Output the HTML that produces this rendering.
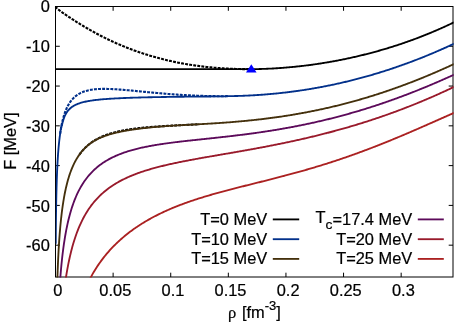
<!DOCTYPE html>
<html><head><meta charset="utf-8"><title>F vs rho</title>
<style>
html,body{margin:0;padding:0;background:#fff;}
body{width:454px;height:322px;overflow:hidden;}
svg{display:block;font-family:"Liberation Sans",sans-serif;font-size:16.1px;fill:#000;}
</style></head><body>
<svg width="454" height="322" viewBox="0 0 454 322">
<rect width="454" height="322" fill="#fff"/>
<defs><clipPath id="c"><rect x="54.9" y="5.9" width="398.7" height="271.5"/></clipPath></defs>
<g stroke="#000" stroke-width="1" fill="none">
<line x1="113.11" y1="277.0" x2="113.11" y2="272.7"/><line x1="113.11" y1="6.5" x2="113.11" y2="10.8"/><line x1="170.72" y1="277.0" x2="170.72" y2="272.7"/><line x1="170.72" y1="6.5" x2="170.72" y2="10.8"/><line x1="228.33" y1="277.0" x2="228.33" y2="272.7"/><line x1="228.33" y1="6.5" x2="228.33" y2="10.8"/><line x1="285.94" y1="277.0" x2="285.94" y2="272.7"/><line x1="285.94" y1="6.5" x2="285.94" y2="10.8"/><line x1="343.55" y1="277.0" x2="343.55" y2="272.7"/><line x1="343.55" y1="6.5" x2="343.55" y2="10.8"/><line x1="401.16" y1="277.0" x2="401.16" y2="272.7"/><line x1="401.16" y1="6.5" x2="401.16" y2="10.8"/><line x1="55.5" y1="46.28" x2="59.8" y2="46.28"/><line x1="453.0" y1="46.28" x2="448.7" y2="46.28"/><line x1="55.5" y1="86.06" x2="59.8" y2="86.06"/><line x1="453.0" y1="86.06" x2="448.7" y2="86.06"/><line x1="55.5" y1="125.84" x2="59.8" y2="125.84"/><line x1="453.0" y1="125.84" x2="448.7" y2="125.84"/><line x1="55.5" y1="165.62" x2="59.8" y2="165.62"/><line x1="453.0" y1="165.62" x2="448.7" y2="165.62"/><line x1="55.5" y1="205.40" x2="59.8" y2="205.40"/><line x1="453.0" y1="205.40" x2="448.7" y2="205.40"/><line x1="55.5" y1="245.18" x2="59.8" y2="245.18"/><line x1="453.0" y1="245.18" x2="448.7" y2="245.18"/>
</g>
<rect x="55.5" y="6.5" width="397.5" height="270.5" fill="none" stroke="#000" stroke-width="1"/>
<g clip-path="url(#c)" stroke-linecap="butt" stroke-linejoin="round">
<path d="M55.50,6.50 L55.51,6.55 L55.51,6.55 L55.51,6.55 L55.51,6.55 L55.51,6.56 L55.51,6.56 L55.51,6.56 L55.52,6.56 L55.52,6.56 L55.52,6.56 L55.52,6.57 L55.52,6.57 L55.52,6.57 L55.52,6.57 L55.52,6.57 L55.52,6.58 L55.52,6.58 L55.52,6.58 L55.52,6.58 L55.52,6.58 L55.52,6.59 L55.53,6.59 L55.53,6.59 L55.53,6.59 L55.53,6.60 L55.53,6.60 L55.53,6.60 L55.53,6.61 L55.53,6.61 L55.53,6.61 L55.54,6.62 L55.54,6.62 L55.54,6.62 L55.54,6.63 L55.54,6.63 L55.54,6.63 L55.55,6.64 L55.55,6.64 L55.55,6.64 L55.55,6.65 L55.55,6.65 L55.56,6.66 L55.56,6.66 L55.56,6.67 L55.56,6.67 L55.56,6.68 L55.57,6.68 L55.57,6.69 L55.57,6.69 L55.57,6.70 L55.58,6.70 L55.58,6.71 L55.58,6.72 L55.59,6.72 L55.59,6.73 L55.59,6.73 L55.60,6.74 L55.60,6.75 L55.61,6.75 L55.61,6.76 L55.61,6.77 L55.62,6.78 L55.62,6.79 L55.63,6.79 L55.63,6.80 L55.64,6.81 L55.64,6.82 L55.65,6.83 L55.65,6.84 L55.66,6.85 L55.67,6.86 L55.67,6.87 L55.68,6.88 L55.69,6.89 L55.69,6.90 L55.70,6.91 L55.71,6.93 L55.72,6.94 L55.73,6.95 L55.74,6.96 L55.74,6.98 L55.75,6.99 L55.76,7.00 L55.77,7.02 L55.79,7.03 L55.80,7.05 L55.81,7.07 L55.82,7.08 L55.83,7.10 L55.85,7.12 L55.86,7.13 L55.87,7.15 L55.89,7.17 L55.90,7.19 L55.92,7.21 L55.93,7.23 L55.95,7.25 L55.97,7.27 L55.99,7.29 L56.01,7.32 L56.03,7.34 L56.05,7.37 L56.07,7.39 L56.09,7.42 L56.11,7.44 L56.14,7.47 L56.16,7.50 L56.19,7.53 L56.21,7.56 L56.24,7.59 L56.27,7.62 L56.30,7.65 L56.33,7.68 L56.36,7.72 L56.40,7.75 L56.43,7.79 L56.47,7.83 L56.51,7.87 L56.54,7.90 L56.59,7.95 L56.63,7.99 L56.67,8.03 L56.72,8.08 L56.76,8.12 L56.81,8.17 L56.86,8.22 L56.92,8.27 L56.97,8.32 L57.03,8.37 L57.09,8.43 L57.15,8.48 L57.22,8.54 L57.28,8.60 L57.35,8.66 L57.42,8.72 L57.50,8.79 L57.58,8.86 L57.66,8.93 L57.74,9.00 L57.83,9.07 L57.92,9.15 L58.01,9.23 L58.11,9.31 L58.21,9.39 L58.32,9.48 L58.43,9.57 L58.54,9.66 L58.66,9.75 L58.79,9.85 L58.91,9.95 L59.05,10.05 L59.18,10.16 L59.33,10.27 L59.48,10.39 L59.63,10.51 L59.79,10.63 L59.96,10.75 L60.13,10.88 L60.31,11.02 L60.50,11.16 L60.70,11.30 L60.90,11.45 L61.11,11.60 L61.33,11.76 L61.55,11.93 L61.79,12.09 L62.03,12.27 L62.29,12.45 L62.55,12.64 L62.83,12.83 L63.11,13.03 L63.41,13.24 L63.72,13.46 L64.04,13.68 L64.37,13.91 L64.71,14.15 L65.07,14.39 L65.45,14.65 L65.83,14.91 L66.23,15.18 L66.65,15.47 L67.09,15.76 L67.54,16.06 L68.01,16.38 L68.49,16.70 L69.00,17.04 L69.53,17.38 L70.07,17.74 L70.64,18.11 L71.23,18.50 L71.84,18.90 L72.48,19.31 L73.14,19.73 L73.82,20.17 L74.54,20.63 L75.28,21.10 L76.05,21.59 L76.85,22.09 L77.68,22.61 L78.54,23.14 L79.49,23.72 L80.43,24.30 L81.37,24.87 L82.31,25.44 L83.25,26.00 L84.19,26.56 L85.13,27.12 L86.08,27.67 L87.02,28.22 L87.96,28.77 L88.90,29.31 L89.84,29.84 L90.78,30.38 L91.72,30.90 L92.66,31.43 L93.61,31.95 L94.55,32.46 L95.49,32.97 L96.43,33.48 L97.37,33.98 L98.31,34.48 L99.25,34.98 L100.20,35.47 L101.14,35.96 L102.08,36.44 L103.02,36.92 L103.96,37.39 L104.90,37.86 L105.84,38.32 L106.79,38.79 L107.73,39.24 L108.67,39.70 L109.61,40.15 L110.55,40.59 L111.49,41.03 L112.43,41.47 L113.38,41.90 L114.32,42.33 L115.26,42.75 L116.20,43.17 L117.14,43.59 L118.08,44.00 L119.02,44.41 L119.97,44.81 L120.91,45.21 L121.85,45.61 L122.79,46.00 L123.73,46.39 L124.67,46.77 L125.61,47.15 L126.56,47.53 L127.50,47.90 L128.44,48.27 L129.38,48.64 L130.32,49.00 L131.26,49.35 L132.20,49.71 L133.14,50.06 L134.09,50.40 L135.03,50.74 L135.97,51.08 L136.91,51.42 L137.85,51.75 L138.79,52.07 L139.73,52.39 L140.68,52.71 L141.62,53.03 L142.56,53.34 L143.50,53.65 L144.44,53.95 L145.38,54.26 L146.32,54.55 L147.27,54.85 L148.21,55.14 L149.15,55.42 L150.09,55.71 L151.03,55.99 L151.97,56.26 L152.91,56.54 L153.86,56.81 L154.80,57.07 L155.74,57.33 L156.68,57.59 L157.62,57.85 L158.56,58.10 L159.50,58.35 L160.45,58.60 L161.39,58.84 L162.33,59.08 L163.27,59.32 L164.21,59.55 L165.15,59.78 L166.09,60.00 L167.04,60.23 L167.98,60.45 L168.92,60.66 L169.86,60.88 L170.80,61.09 L171.74,61.30 L172.68,61.50 L173.63,61.70 L174.57,61.90 L175.51,62.10 L176.45,62.29 L177.39,62.48 L178.33,62.66 L179.27,62.85 L180.21,63.03 L181.16,63.20 L182.10,63.38 L183.04,63.55 L183.98,63.72 L184.92,63.89 L185.86,64.05 L186.80,64.21 L187.75,64.37 L188.69,64.52 L189.63,64.67 L190.57,64.82 L191.51,64.97 L192.45,65.11 L193.39,65.25 L194.34,65.39 L195.28,65.52 L196.22,65.66 L197.16,65.79 L198.10,65.91 L199.04,66.04 L199.98,66.16 L200.93,66.28 L201.87,66.40 L202.81,66.51 L203.75,66.62 L204.69,66.73 L205.63,66.84 L206.57,66.94 L207.52,67.04 L208.46,67.14 L209.40,67.24 L210.34,67.33 L211.28,67.42 L212.22,67.51 L213.16,67.59 L214.11,67.68 L215.05,67.76 L215.99,67.84 L216.93,67.92 L217.87,67.99 L218.81,68.06 L219.75,68.13 L220.69,68.20 L221.64,68.26 L222.58,68.32 L223.52,68.38 L224.46,68.44 L225.40,68.50 L226.34,68.55 L227.28,68.60 L228.23,68.65 L229.17,68.70 L230.11,68.74 L231.05,68.78 L231.99,68.82 L232.93,68.86 L233.87,68.89 L234.82,68.92 L235.76,68.96 L236.70,68.98 L237.64,69.01 L238.58,69.03 L239.52,69.06 L240.46,69.07 L241.41,69.09 L242.35,69.11 L243.29,69.12 L244.23,69.13 L245.17,69.14 L246.11,69.15 L247.05,69.15 L248.00,69.15 L248.94,69.16" fill="none" stroke="#000" stroke-width="2.1" stroke-dasharray="2.9 1.2"/>
<path d="M60.13,133.83 L60.31,132.59 L60.50,131.36 L60.70,130.14 L60.90,128.93 L61.11,127.73 L61.33,126.54 L61.55,125.36 L61.79,124.19 L62.03,123.04 L62.29,121.90 L62.55,120.77 L62.83,119.65 L63.11,118.55 L63.41,117.46 L63.72,116.38 L64.04,115.32 L64.37,114.27 L64.71,113.24 L65.07,112.22 L65.45,111.22 L65.83,110.24 L66.23,109.27 L66.65,108.32 L67.09,107.39 L67.54,106.48 L68.01,105.58 L68.49,104.71 L69.00,103.85 L69.53,103.01 L70.07,102.20 L70.64,101.40 L71.23,100.62 L71.84,99.87 L72.48,99.14 L73.14,98.43 L73.82,97.74 L74.54,97.08 L75.28,96.44 L76.05,95.82 L76.85,95.23 L77.68,94.66 L78.54,94.12 L79.49,93.57 L80.43,93.08 L81.37,92.63 L82.31,92.22 L83.25,91.84 L84.19,91.50 L85.13,91.19 L86.08,90.90 L87.02,90.65 L87.96,90.41 L88.90,90.20 L89.84,90.01 L90.78,89.84 L91.72,89.69 L92.66,89.55 L93.61,89.43 L94.55,89.33 L95.49,89.23 L96.43,89.15 L97.37,89.09 L98.31,89.03 L99.25,88.98 L100.20,88.94 L101.14,88.92 L102.08,88.90 L103.02,88.88 L103.96,88.88 L104.90,88.88 L105.84,88.89 L106.79,88.91 L107.73,88.93 L108.67,88.95 L109.61,88.99 L110.55,89.02 L111.49,89.06 L112.43,89.11 L113.38,89.16 L114.32,89.21 L115.26,89.26 L116.20,89.32 L117.14,89.39 L118.08,89.45 L119.02,89.52 L119.97,89.59 L120.91,89.66 L121.85,89.73 L122.79,89.81 L123.73,89.89 L124.67,89.97 L125.61,90.05 L126.56,90.13 L127.50,90.21 L128.44,90.30 L129.38,90.38 L130.32,90.47 L131.26,90.56 L132.20,90.65 L133.14,90.74 L134.09,90.82 L135.03,90.91 L135.97,91.01 L136.91,91.10 L137.85,91.19 L138.79,91.28 L139.73,91.37 L140.68,91.46 L141.62,91.55 L142.56,91.64 L143.50,91.74 L144.44,91.83 L145.38,91.92 L146.32,92.01 L147.27,92.10 L148.21,92.19 L149.15,92.28 L150.09,92.37 L151.03,92.46 L151.97,92.55 L152.91,92.63 L153.86,92.72 L154.80,92.81 L155.74,92.89 L156.68,92.98 L157.62,93.06 L158.56,93.15 L159.50,93.23 L160.45,93.31 L161.39,93.39 L162.33,93.48 L163.27,93.56 L164.21,93.63 L165.15,93.71 L166.09,93.79 L167.04,93.87 L167.98,93.94 L168.92,94.02 L169.86,94.09 L170.80,94.16 L171.74,94.23 L172.68,94.30 L173.63,94.37 L174.57,94.44 L175.51,94.51 L176.45,94.57 L177.39,94.64 L178.33,94.70 L179.27,94.76 L180.21,94.82 L181.16,94.88 L182.10,94.94 L183.04,95.00 L183.98,95.06 L184.92,95.11 L185.86,95.16 L186.80,95.22 L187.75,95.27 L188.69,95.32 L189.63,95.37 L190.57,95.41 L191.51,95.46 L192.45,95.51 L193.39,95.55 L194.34,95.59 L195.28,95.63 L196.22,95.67 L197.16,95.71 L198.10,95.75 L199.04,95.78 L199.98,95.81 L200.93,95.85 L201.87,95.88 L202.81,95.91 L203.75,95.94 L204.69,95.96 L205.63,95.99 L206.57,96.01 L207.52,96.03 L208.46,96.05 L209.40,96.07 L210.34,96.09 L211.28,96.11 L212.22,96.12 L213.16,96.14 L214.11,96.15 L215.05,96.16 L215.99,96.17 L216.93,96.18 L217.87,96.18 L218.81,96.19 L219.75,96.19 L220.69,96.19 L221.64,96.19 L222.58,96.19 L223.52,96.19 L224.46,96.19 L225.40,96.18 L226.34,96.17 L227.28,96.16 L228.23,96.15" fill="none" stroke="#02308a" stroke-width="2.1" stroke-dasharray="2.9 1.2"/>
<path d="M79.49,154.51 L80.43,153.23 L81.37,152.03 L82.31,150.90 L83.25,149.82 L84.19,148.81 L85.13,147.85 L86.08,146.94 L87.02,146.07 L87.96,145.25 L88.90,144.46 L89.84,143.72 L90.78,143.01 L91.72,142.33 L92.66,141.69 L93.61,141.07 L94.55,140.48 L95.49,139.92 L96.43,139.38 L97.37,138.86 L98.31,138.37 L99.25,137.89 L100.20,137.44 L101.14,137.00 L102.08,136.58 L103.02,136.18 L103.96,135.80 L104.90,135.43 L105.84,135.07 L106.79,134.73 L107.73,134.40 L108.67,134.08 L109.61,133.78 L110.55,133.48 L111.49,133.20 L112.43,132.93 L113.38,132.67 L114.32,132.41 L115.26,132.17 L116.20,131.93 L117.14,131.71 L118.08,131.49 L119.02,131.28 L119.97,131.07 L120.91,130.87 L121.85,130.68 L122.79,130.50 L123.73,130.32 L124.67,130.15 L125.61,129.98 L126.56,129.82 L127.50,129.67 L128.44,129.52 L129.38,129.37 L130.32,129.23 L131.26,129.09 L132.20,128.96 L133.14,128.83 L134.09,128.71 L135.03,128.59 L135.97,128.47 L136.91,128.35 L137.85,128.24 L138.79,128.14 L139.73,128.03 L140.68,127.93 L141.62,127.83 L142.56,127.74 L143.50,127.64 L144.44,127.55 L145.38,127.47 L146.32,127.38 L147.27,127.30 L148.21,127.22 L149.15,127.14 L150.09,127.06 L151.03,126.98 L151.97,126.91 L152.91,126.84 L153.86,126.77 L154.80,126.70 L155.74,126.63 L156.68,126.57 L157.62,126.50 L158.56,126.44 L159.50,126.38 L160.45,126.31 L161.39,126.25 L162.33,126.20 L163.27,126.14 L164.21,126.08 L165.15,126.02 L166.09,125.97 L167.04,125.91 L167.98,125.86 L168.92,125.81 L169.86,125.76 L170.80,125.70 L171.74,125.65 L172.68,125.60 L173.63,125.55 L174.57,125.50 L175.51,125.45 L176.45,125.40 L177.39,125.35 L178.33,125.30 L179.27,125.26 L180.21,125.21 L181.16,125.16 L182.10,125.11 L183.04,125.06 L183.98,125.02 L184.92,124.97 L185.86,124.92 L186.80,124.87 L187.75,124.82 L188.69,124.78 L189.63,124.73 L190.57,124.68 L191.51,124.63 L192.45,124.58 L193.39,124.53 L194.34,124.48 L195.28,124.43 L196.22,124.38 L197.16,124.33 L198.10,124.28 L199.04,124.23" fill="none" stroke="#000" stroke-width="2.1" stroke-dasharray="2.9 1.2"/>
<path d="M55.50,69.16 L55.51,69.16 L55.51,69.16 L55.51,69.16 L55.51,69.16 L55.51,69.16 L55.51,69.16 L55.51,69.16 L55.52,69.16 L55.52,69.16 L55.52,69.16 L55.52,69.16 L55.52,69.16 L55.52,69.16 L55.52,69.16 L55.52,69.16 L55.52,69.16 L55.52,69.16 L55.52,69.16 L55.52,69.16 L55.52,69.16 L55.52,69.16 L55.53,69.16 L55.53,69.16 L55.53,69.16 L55.53,69.16 L55.53,69.16 L55.53,69.16 L55.53,69.16 L55.53,69.16 L55.53,69.16 L55.54,69.16 L55.54,69.16 L55.54,69.16 L55.54,69.16 L55.54,69.16 L55.54,69.16 L55.55,69.16 L55.55,69.16 L55.55,69.16 L55.55,69.16 L55.55,69.16 L55.56,69.16 L55.56,69.16 L55.56,69.16 L55.56,69.16 L55.56,69.16 L55.57,69.16 L55.57,69.16 L55.57,69.16 L55.57,69.16 L55.58,69.16 L55.58,69.16 L55.58,69.16 L55.59,69.16 L55.59,69.16 L55.59,69.16 L55.60,69.16 L55.60,69.16 L55.61,69.16 L55.61,69.16 L55.61,69.16 L55.62,69.16 L55.62,69.16 L55.63,69.16 L55.63,69.16 L55.64,69.16 L55.64,69.16 L55.65,69.16 L55.65,69.16 L55.66,69.16 L55.67,69.16 L55.67,69.16 L55.68,69.16 L55.69,69.16 L55.69,69.16 L55.70,69.16 L55.71,69.16 L55.72,69.16 L55.73,69.16 L55.74,69.16 L55.74,69.16 L55.75,69.16 L55.76,69.16 L55.77,69.16 L55.79,69.16 L55.80,69.16 L55.81,69.16 L55.82,69.16 L55.83,69.16 L55.85,69.16 L55.86,69.16 L55.87,69.16 L55.89,69.16 L55.90,69.16 L55.92,69.16 L55.93,69.16 L55.95,69.16 L55.97,69.16 L55.99,69.16 L56.01,69.16 L56.03,69.16 L56.05,69.16 L56.07,69.16 L56.09,69.16 L56.11,69.16 L56.14,69.16 L56.16,69.16 L56.19,69.16 L56.21,69.16 L56.24,69.16 L56.27,69.16 L56.30,69.16 L56.33,69.16 L56.36,69.16 L56.40,69.16 L56.43,69.16 L56.47,69.16 L56.51,69.16 L56.54,69.16 L56.59,69.16 L56.63,69.16 L56.67,69.16 L56.72,69.16 L56.76,69.16 L56.81,69.16 L56.86,69.16 L56.92,69.16 L56.97,69.16 L57.03,69.16 L57.09,69.16 L57.15,69.16 L57.22,69.16 L57.28,69.16 L57.35,69.16 L57.42,69.16 L57.50,69.16 L57.58,69.16 L57.66,69.16 L57.74,69.16 L57.83,69.16 L57.92,69.16 L58.01,69.16 L58.11,69.16 L58.21,69.16 L58.32,69.16 L58.43,69.16 L58.54,69.16 L58.66,69.16 L58.79,69.16 L58.91,69.16 L59.05,69.16 L59.18,69.16 L59.33,69.16 L59.48,69.16 L59.63,69.16 L59.79,69.16 L59.96,69.16 L60.13,69.16 L60.31,69.16 L60.50,69.16 L60.70,69.16 L60.90,69.16 L61.11,69.16 L61.33,69.16 L61.55,69.16 L61.79,69.16 L62.03,69.16 L62.29,69.16 L62.55,69.16 L62.83,69.16 L63.11,69.16 L63.41,69.16 L63.72,69.16 L64.04,69.16 L64.37,69.16 L64.71,69.16 L65.07,69.16 L65.45,69.16 L65.83,69.16 L66.23,69.16 L66.65,69.16 L67.09,69.16 L67.54,69.16 L68.01,69.16 L68.49,69.16 L69.00,69.16 L69.53,69.16 L70.07,69.16 L70.64,69.16 L71.23,69.16 L71.84,69.16 L72.48,69.16 L73.14,69.16 L73.82,69.16 L74.54,69.16 L75.28,69.16 L76.05,69.16 L76.85,69.16 L77.68,69.16 L78.54,69.16 L79.49,69.16 L80.43,69.16 L81.37,69.16 L82.31,69.16 L83.25,69.16 L84.19,69.16 L85.13,69.16 L86.08,69.16 L87.02,69.16 L87.96,69.16 L88.90,69.16 L89.84,69.16 L90.78,69.16 L91.72,69.16 L92.66,69.16 L93.61,69.16 L94.55,69.16 L95.49,69.16 L96.43,69.16 L97.37,69.16 L98.31,69.16 L99.25,69.16 L100.20,69.16 L101.14,69.16 L102.08,69.16 L103.02,69.16 L103.96,69.16 L104.90,69.16 L105.84,69.16 L106.79,69.16 L107.73,69.16 L108.67,69.16 L109.61,69.16 L110.55,69.16 L111.49,69.16 L112.43,69.16 L113.38,69.16 L114.32,69.16 L115.26,69.16 L116.20,69.16 L117.14,69.16 L118.08,69.16 L119.02,69.16 L119.97,69.16 L120.91,69.16 L121.85,69.16 L122.79,69.16 L123.73,69.16 L124.67,69.16 L125.61,69.16 L126.56,69.16 L127.50,69.16 L128.44,69.16 L129.38,69.16 L130.32,69.16 L131.26,69.16 L132.20,69.16 L133.14,69.16 L134.09,69.16 L135.03,69.16 L135.97,69.16 L136.91,69.16 L137.85,69.16 L138.79,69.16 L139.73,69.16 L140.68,69.16 L141.62,69.16 L142.56,69.16 L143.50,69.16 L144.44,69.16 L145.38,69.16 L146.32,69.16 L147.27,69.16 L148.21,69.16 L149.15,69.16 L150.09,69.16 L151.03,69.16 L151.97,69.16 L152.91,69.16 L153.86,69.16 L154.80,69.16 L155.74,69.16 L156.68,69.16 L157.62,69.16 L158.56,69.16 L159.50,69.16 L160.45,69.16 L161.39,69.16 L162.33,69.16 L163.27,69.16 L164.21,69.16 L165.15,69.16 L166.09,69.16 L167.04,69.16 L167.98,69.16 L168.92,69.16 L169.86,69.16 L170.80,69.16 L171.74,69.16 L172.68,69.16 L173.63,69.16 L174.57,69.16 L175.51,69.16 L176.45,69.16 L177.39,69.16 L178.33,69.16 L179.27,69.16 L180.21,69.16 L181.16,69.16 L182.10,69.16 L183.04,69.16 L183.98,69.16 L184.92,69.16 L185.86,69.16 L186.80,69.16 L187.75,69.16 L188.69,69.16 L189.63,69.16 L190.57,69.16 L191.51,69.16 L192.45,69.16 L193.39,69.16 L194.34,69.16 L195.28,69.16 L196.22,69.16 L197.16,69.16 L198.10,69.16 L199.04,69.16 L199.98,69.16 L200.93,69.16 L201.87,69.16 L202.81,69.16 L203.75,69.16 L204.69,69.16 L205.63,69.16 L206.57,69.16 L207.52,69.16 L208.46,69.16 L209.40,69.16 L210.34,69.16 L211.28,69.16 L212.22,69.16 L213.16,69.16 L214.11,69.16 L215.05,69.16 L215.99,69.16 L216.93,69.16 L217.87,69.16 L218.81,69.16 L219.75,69.16 L220.69,69.16 L221.64,69.16 L222.58,69.16 L223.52,69.16 L224.46,69.16 L225.40,69.16 L226.34,69.16 L227.28,69.16 L228.23,69.16 L229.17,69.16 L230.11,69.16 L231.05,69.16 L231.99,69.16 L232.93,69.16 L233.87,69.16 L234.82,69.16 L235.76,69.16 L236.70,69.16 L237.64,69.16 L238.58,69.16 L239.52,69.16 L240.46,69.16 L241.41,69.16 L242.35,69.16 L243.29,69.16 L244.23,69.16 L245.17,69.16 L246.11,69.16 L247.05,69.16 L248.00,69.16 L248.94,69.16 L249.88,69.15 L250.82,69.15 L251.76,69.14 L252.70,69.14 L253.64,69.13 L254.59,69.11 L255.53,69.10 L256.47,69.08 L257.41,69.07 L258.35,69.05 L259.29,69.02 L260.23,69.00 L261.17,68.97 L262.12,68.95 L263.06,68.92 L264.00,68.88 L264.94,68.85 L265.88,68.81 L266.82,68.78 L267.76,68.74 L268.71,68.69 L269.65,68.65 L270.59,68.60 L271.53,68.56 L272.47,68.51 L273.41,68.46 L274.35,68.40 L275.30,68.35 L276.24,68.29 L277.18,68.23 L278.12,68.17 L279.06,68.10 L280.00,68.04 L280.94,67.97 L281.89,67.90 L282.83,67.83 L283.77,67.76 L284.71,67.69 L285.65,67.61 L286.59,67.53 L287.53,67.45 L288.48,67.37 L289.42,67.28 L290.36,67.20 L291.30,67.11 L292.24,67.02 L293.18,66.93 L294.12,66.84 L295.07,66.74 L296.01,66.64 L296.95,66.54 L297.89,66.44 L298.83,66.34 L299.77,66.24 L300.71,66.13 L301.65,66.02 L302.60,65.91 L303.54,65.80 L304.48,65.69 L305.42,65.57 L306.36,65.45 L307.30,65.33 L308.24,65.21 L309.19,65.09 L310.13,64.96 L311.07,64.84 L312.01,64.71 L312.95,64.58 L313.89,64.45 L314.83,64.31 L315.78,64.18 L316.72,64.04 L317.66,63.90 L318.60,63.76 L319.54,63.61 L320.48,63.47 L321.42,63.32 L322.37,63.17 L323.31,63.02 L324.25,62.87 L325.19,62.71 L326.13,62.56 L327.07,62.40 L328.01,62.24 L328.96,62.08 L329.90,61.91 L330.84,61.75 L331.78,61.58 L332.72,61.41 L333.66,61.24 L334.60,61.07 L335.55,60.89 L336.49,60.72 L337.43,60.54 L338.37,60.36 L339.31,60.17 L340.25,59.99 L341.19,59.80 L342.14,59.61 L343.08,59.42 L344.02,59.23 L344.96,59.04 L345.90,58.84 L346.84,58.65 L347.78,58.45 L348.72,58.24 L349.67,58.04 L350.61,57.84 L351.55,57.63 L352.49,57.42 L353.43,57.21 L354.37,57.00 L355.31,56.78 L356.26,56.56 L357.20,56.34 L358.14,56.12 L359.08,55.90 L360.02,55.68 L360.96,55.45 L361.90,55.22 L362.85,54.99 L363.79,54.76 L364.73,54.52 L365.67,54.29 L366.61,54.05 L367.55,53.81 L368.49,53.56 L369.44,53.32 L370.38,53.07 L371.32,52.82 L372.26,52.57 L373.20,52.32 L374.14,52.07 L375.08,51.81 L376.03,51.55 L376.97,51.29 L377.91,51.03 L378.85,50.76 L379.79,50.49 L380.73,50.23 L381.67,49.95 L382.62,49.68 L383.56,49.41 L384.50,49.13 L385.44,48.85 L386.38,48.57 L387.32,48.28 L388.26,48.00 L389.20,47.71 L390.15,47.42 L391.09,47.13 L392.03,46.83 L392.97,46.54 L393.91,46.24 L394.85,45.94 L395.79,45.63 L396.74,45.33 L397.68,45.02 L398.62,44.71 L399.56,44.40 L400.50,44.08 L401.44,43.77 L402.38,43.45 L403.33,43.13 L404.27,42.80 L405.21,42.48 L406.15,42.15 L407.09,41.82 L408.03,41.49 L408.97,41.15 L409.92,40.82 L410.86,40.48 L411.80,40.14 L412.74,39.79 L413.68,39.44 L414.62,39.10 L415.56,38.75 L416.51,38.39 L417.45,38.04 L418.39,37.68 L419.33,37.32 L420.27,36.95 L421.21,36.59 L422.15,36.22 L423.10,35.85 L424.04,35.48 L424.98,35.10 L425.92,34.73 L426.86,34.35 L427.80,33.96 L428.74,33.58 L429.68,33.19 L430.63,32.80 L431.57,32.41 L432.51,32.02 L433.45,31.62 L434.39,31.22 L435.33,30.82 L436.27,30.41 L437.22,30.00 L438.16,29.59 L439.10,29.18 L440.04,28.76 L440.98,28.35 L441.92,27.93 L442.86,27.50 L443.81,27.08 L444.75,26.65 L445.69,26.22 L446.63,25.78 L447.57,25.35 L448.51,24.91 L449.45,24.46 L450.40,24.02 L451.34,23.57 L452.28,23.12 L453.22,22.67 L454.16,22.21" fill="none" stroke="#000" stroke-width="1.85"/>
<path d="M55.74,243.71 L55.75,242.21 L55.76,240.71 L55.77,239.20 L55.79,237.70 L55.80,236.20 L55.81,234.70 L55.82,233.20 L55.83,231.70 L55.85,230.20 L55.86,228.71 L55.87,227.21 L55.89,225.72 L55.90,224.22 L55.92,222.73 L55.93,221.24 L55.95,219.75 L55.97,218.26 L55.99,216.77 L56.01,215.28 L56.03,213.79 L56.05,212.31 L56.07,210.82 L56.09,209.34 L56.11,207.86 L56.14,206.38 L56.16,204.90 L56.19,203.43 L56.21,201.95 L56.24,200.48 L56.27,199.01 L56.30,197.54 L56.33,196.07 L56.36,194.61 L56.40,193.14 L56.43,191.68 L56.47,190.22 L56.51,188.77 L56.54,187.31 L56.59,185.86 L56.63,184.41 L56.67,182.97 L56.72,181.52 L56.76,180.08 L56.81,178.64 L56.86,177.21 L56.92,175.78 L56.97,174.35 L57.03,172.93 L57.09,171.51 L57.15,170.09 L57.22,168.68 L57.28,167.27 L57.35,165.86 L57.42,164.46 L57.50,163.06 L57.58,161.67 L57.66,160.28 L57.74,158.90 L57.83,157.53 L57.92,156.15 L58.01,154.79 L58.11,153.43 L58.21,152.07 L58.32,150.72 L58.43,149.38 L58.54,148.04 L58.66,146.71 L58.79,145.39 L58.91,144.08 L59.05,142.77 L59.18,141.47 L59.33,140.17 L59.48,138.89 L59.63,137.61 L59.79,136.34 L59.96,135.08 L60.13,133.83 L60.31,132.59 L60.50,131.36 L60.70,130.14 L60.90,128.93 L61.11,127.73 L61.33,126.54 L61.55,125.36 L61.79,125.97 L62.03,124.81 L62.29,123.71 L62.55,122.64 L62.83,121.61 L63.11,120.62 L63.41,119.67 L63.72,118.75 L64.04,117.87 L64.37,117.02 L64.71,116.20 L65.07,115.42 L65.45,114.66 L65.83,113.93 L66.23,113.23 L66.65,112.55 L67.09,111.90 L67.54,111.28 L68.01,110.67 L68.49,110.09 L69.00,109.54 L69.53,109.00 L70.07,108.48 L70.64,107.99 L71.23,107.51 L71.84,107.05 L72.48,106.60 L73.14,106.17 L73.82,105.76 L74.54,105.37 L75.28,104.99 L76.05,104.62 L76.85,104.27 L77.68,103.93 L78.54,103.60 L79.49,103.27 L80.43,102.97 L81.37,102.68 L82.31,102.42 L83.25,102.18 L84.19,101.95 L85.13,101.73 L86.08,101.53 L87.02,101.34 L87.96,101.17 L88.90,101.00 L89.84,100.84 L90.78,100.69 L91.72,100.55 L92.66,100.41 L93.61,100.28 L94.55,100.16 L95.49,100.04 L96.43,99.93 L97.37,99.83 L98.31,99.73 L99.25,99.63 L100.20,99.53 L101.14,99.45 L102.08,99.36 L103.02,99.28 L103.96,99.20 L104.90,99.12 L105.84,99.05 L106.79,98.98 L107.73,98.91 L108.67,98.85 L109.61,98.78 L110.55,98.72 L111.49,98.66 L112.43,98.60 L113.38,98.55 L114.32,98.50 L115.26,98.44 L116.20,98.39 L117.14,98.35 L118.08,98.30 L119.02,98.25 L119.97,98.21 L120.91,98.16 L121.85,98.12 L122.79,98.08 L123.73,98.04 L124.67,98.00 L125.61,97.97 L126.56,97.93 L127.50,97.89 L128.44,97.86 L129.38,97.83 L130.32,97.79 L131.26,97.76 L132.20,97.73 L133.14,97.70 L134.09,97.67 L135.03,97.64 L135.97,97.61 L136.91,97.58 L137.85,97.56 L138.79,97.53 L139.73,97.50 L140.68,97.48 L141.62,97.45 L142.56,97.43 L143.50,97.40 L144.44,97.38 L145.38,97.36 L146.32,97.34 L147.27,97.31 L148.21,97.29 L149.15,97.27 L150.09,97.25 L151.03,97.23 L151.97,97.21 L152.91,97.19 L153.86,97.17 L154.80,97.15 L155.74,97.14 L156.68,97.12 L157.62,97.10 L158.56,97.08 L159.50,97.07 L160.45,97.05 L161.39,97.03 L162.33,97.02 L163.27,97.00 L164.21,96.99 L165.15,96.97 L166.09,96.96 L167.04,96.94 L167.98,96.93 L168.92,96.91 L169.86,96.90 L170.80,96.88 L171.74,96.87 L172.68,96.86 L173.63,96.84 L174.57,96.83 L175.51,96.82 L176.45,96.81 L177.39,96.79 L178.33,96.78 L179.27,96.77 L180.21,96.76 L181.16,96.75 L182.10,96.73 L183.04,96.72 L183.98,96.71 L184.92,96.70 L185.86,96.69 L186.80,96.68 L187.75,96.67 L188.69,96.66 L189.63,96.65 L190.57,96.64 L191.51,96.63 L192.45,96.62 L193.39,96.61 L194.34,96.60 L195.28,96.59 L196.22,96.58 L197.16,96.57 L198.10,96.56 L199.04,96.55 L199.98,96.55 L200.93,96.54 L201.87,96.53 L202.81,96.52 L203.75,96.51 L204.69,96.50 L205.63,96.50 L206.57,96.49 L207.52,96.48 L208.46,96.47 L209.40,96.46 L210.34,96.46 L211.28,96.45 L212.22,96.44 L213.16,96.43 L214.11,96.43 L215.05,96.42 L215.99,96.41 L216.93,96.41 L217.87,96.40 L218.81,96.39 L219.75,96.38 L220.69,96.38 L221.64,96.37 L222.58,96.36 L223.52,96.36 L224.46,96.35 L225.40,96.35 L226.34,96.17 L227.28,96.16 L228.23,96.15 L229.17,96.14 L230.11,96.13 L231.05,96.11 L231.99,96.10 L232.93,96.08 L233.87,96.06 L234.82,96.04 L235.76,96.01 L236.70,95.99 L237.64,95.96 L238.58,95.93 L239.52,95.90 L240.46,95.87 L241.41,95.84 L242.35,95.81 L243.29,95.77 L244.23,95.73 L245.17,95.70 L246.11,95.65 L247.05,95.61 L248.00,95.57 L248.94,95.52 L249.88,95.48 L250.82,95.43 L251.76,95.38 L252.70,95.33 L253.64,95.27 L254.59,95.22 L255.53,95.16 L256.47,95.10 L257.41,95.04 L258.35,94.98 L259.29,94.92 L260.23,94.85 L261.17,94.78 L262.12,94.72 L263.06,94.65 L264.00,94.57 L264.94,94.50 L265.88,94.43 L266.82,94.35 L267.76,94.27 L268.71,94.19 L269.65,94.11 L270.59,94.03 L271.53,93.94 L272.47,93.86 L273.41,93.77 L274.35,93.68 L275.30,93.59 L276.24,93.49 L277.18,93.40 L278.12,93.30 L279.06,93.20 L280.00,93.10 L280.94,93.00 L281.89,92.90 L282.83,92.79 L283.77,92.68 L284.71,92.57 L285.65,92.46 L286.59,92.35 L287.53,92.24 L288.48,92.12 L289.42,92.01 L290.36,91.89 L291.30,91.77 L292.24,91.64 L293.18,91.52 L294.12,91.39 L295.07,91.27 L296.01,91.14 L296.95,91.01 L297.89,90.87 L298.83,90.74 L299.77,90.60 L300.71,90.46 L301.65,90.32 L302.60,90.18 L303.54,90.04 L304.48,89.90 L305.42,89.75 L306.36,89.60 L307.30,89.45 L308.24,89.30 L309.19,89.14 L310.13,88.99 L311.07,88.83 L312.01,88.67 L312.95,88.51 L313.89,88.35 L314.83,88.19 L315.78,88.02 L316.72,87.85 L317.66,87.68 L318.60,87.51 L319.54,87.34 L320.48,87.16 L321.42,86.99 L322.37,86.81 L323.31,86.63 L324.25,86.45 L325.19,86.26 L326.13,86.08 L327.07,85.89 L328.01,85.70 L328.96,85.51 L329.90,85.32 L330.84,85.12 L331.78,84.93 L332.72,84.73 L333.66,84.53 L334.60,84.33 L335.55,84.12 L336.49,83.92 L337.43,83.71 L338.37,83.50 L339.31,83.29 L340.25,83.08 L341.19,82.86 L342.14,82.65 L343.08,82.43 L344.02,82.21 L344.96,81.99 L345.90,81.77 L346.84,81.54 L347.78,81.31 L348.72,81.08 L349.67,80.85 L350.61,80.62 L351.55,80.39 L352.49,80.15 L353.43,79.91 L354.37,79.67 L355.31,79.43 L356.26,79.19 L357.20,78.94 L358.14,78.70 L359.08,78.45 L360.02,78.20 L360.96,77.94 L361.90,77.69 L362.85,77.43 L363.79,77.17 L364.73,76.91 L365.67,76.65 L366.61,76.39 L367.55,76.12 L368.49,75.86 L369.44,75.59 L370.38,75.32 L371.32,75.04 L372.26,74.77 L373.20,74.49 L374.14,74.21 L375.08,73.93 L376.03,73.65 L376.97,73.37 L377.91,73.08 L378.85,72.79 L379.79,72.50 L380.73,72.21 L381.67,71.92 L382.62,71.62 L383.56,71.33 L384.50,71.03 L385.44,70.73 L386.38,70.42 L387.32,70.12 L388.26,69.81 L389.20,69.51 L390.15,69.20 L391.09,68.88 L392.03,68.57 L392.97,68.25 L393.91,67.94 L394.85,67.62 L395.79,67.29 L396.74,66.97 L397.68,66.65 L398.62,66.32 L399.56,65.99 L400.50,65.66 L401.44,65.33 L402.38,64.99 L403.33,64.66 L404.27,64.32 L405.21,63.98 L406.15,63.63 L407.09,63.29 L408.03,62.94 L408.97,62.60 L409.92,62.25 L410.86,61.89 L411.80,61.54 L412.74,61.19 L413.68,60.83 L414.62,60.47 L415.56,60.11 L416.51,59.74 L417.45,59.38 L418.39,59.01 L419.33,58.64 L420.27,58.27 L421.21,57.90 L422.15,57.52 L423.10,57.15 L424.04,56.77 L424.98,56.39 L425.92,56.01 L426.86,55.62 L427.80,55.24 L428.74,54.85 L429.68,54.46 L430.63,54.07 L431.57,53.67 L432.51,53.28 L433.45,52.88 L434.39,52.48 L435.33,52.08 L436.27,51.68 L437.22,51.27 L438.16,50.86 L439.10,50.45 L440.04,50.04 L440.98,49.63 L441.92,49.21 L442.86,48.80 L443.81,48.38 L444.75,47.96 L445.69,47.54 L446.63,47.11 L447.57,46.68 L448.51,46.26 L449.45,45.83 L450.40,45.39 L451.34,44.96 L452.28,44.52 L453.22,44.08 L454.16,43.64" fill="none" stroke="#02308a" stroke-width="1.85"/>
<path d="M56.51,314.78 L56.54,312.55 L56.59,310.33 L56.63,308.10 L56.67,305.88 L56.72,303.66 L56.76,301.44 L56.81,299.23 L56.86,297.01 L56.92,294.80 L56.97,292.60 L57.03,290.39 L57.09,288.19 L57.15,286.00 L57.22,283.81 L57.28,281.62 L57.35,279.43 L57.42,277.25 L57.50,275.07 L57.58,272.90 L57.66,270.73 L57.74,268.56 L57.83,266.40 L57.92,264.25 L58.01,262.10 L58.11,259.95 L58.21,257.82 L58.32,255.68 L58.43,253.55 L58.54,251.43 L58.66,249.32 L58.79,247.21 L58.91,245.11 L59.05,243.01 L59.18,240.93 L59.33,238.85 L59.48,236.77 L59.63,234.71 L59.79,232.65 L59.96,230.61 L60.13,228.57 L60.31,226.54 L60.50,224.52 L60.70,222.51 L60.90,220.51 L61.11,218.52 L61.33,216.55 L61.55,214.58 L61.79,212.62 L62.03,210.68 L62.29,208.75 L62.55,206.83 L62.83,204.92 L63.11,203.03 L63.41,201.15 L63.72,199.29 L64.04,197.44 L64.37,195.60 L64.71,193.78 L65.07,191.98 L65.45,190.19 L65.83,188.42 L66.23,186.67 L66.65,184.93 L67.09,183.21 L67.54,181.51 L68.01,179.83 L68.49,178.17 L69.00,176.53 L69.53,174.91 L70.07,173.30 L70.64,171.72 L71.23,170.17 L71.84,168.63 L72.48,167.11 L73.14,165.62 L73.82,164.15 L74.54,162.71 L75.28,161.29 L76.05,159.89 L76.85,158.52 L77.68,157.18 L78.54,155.86 L79.49,154.51 L80.43,153.23 L81.37,152.03 L82.31,150.90 L83.25,149.82 L84.19,148.81 L85.13,147.85 L86.08,146.94 L87.02,146.08 L87.96,145.27 L88.90,144.50 L89.84,143.78 L90.78,143.10 L91.72,142.45 L92.66,141.84 L93.61,141.25 L94.55,140.70 L95.49,140.17 L96.43,139.66 L97.37,139.18 L98.31,138.71 L99.25,138.27 L100.20,137.85 L101.14,137.44 L102.08,137.05 L103.02,136.68 L103.96,136.32 L104.90,135.97 L105.84,135.64 L106.79,135.32 L107.73,135.01 L108.67,134.71 L109.61,134.43 L110.55,134.15 L111.49,133.88 L112.43,133.62 L113.38,133.37 L114.32,133.13 L115.26,132.89 L116.20,132.66 L117.14,132.44 L118.08,132.23 L119.02,132.02 L119.97,131.82 L120.91,131.62 L121.85,131.43 L122.79,131.24 L123.73,131.06 L124.67,130.89 L125.61,130.72 L126.56,130.55 L127.50,130.39 L128.44,130.23 L129.38,130.08 L130.32,129.93 L131.26,129.78 L132.20,129.64 L133.14,129.50 L134.09,129.36 L135.03,129.23 L135.97,129.10 L136.91,128.98 L137.85,128.85 L138.79,128.73 L139.73,128.61 L140.68,128.50 L141.62,128.39 L142.56,128.28 L143.50,128.17 L144.44,128.06 L145.38,127.96 L146.32,127.86 L147.27,127.76 L148.21,127.66 L149.15,127.56 L150.09,127.47 L151.03,127.38 L151.97,127.29 L152.91,127.20 L153.86,127.12 L154.80,127.03 L155.74,126.95 L156.68,126.87 L157.62,126.79 L158.56,126.71 L159.50,126.63 L160.45,126.55 L161.39,126.48 L162.33,126.41 L163.27,126.33 L164.21,126.26 L165.15,126.19 L166.09,126.13 L167.04,126.06 L167.98,125.99 L168.92,125.93 L169.86,125.86 L170.80,125.80 L171.74,125.74 L172.68,125.68 L173.63,125.62 L174.57,125.56 L175.51,125.50 L176.45,125.44 L177.39,125.39 L178.33,125.33 L179.27,125.28 L180.21,125.23 L181.16,125.17 L182.10,125.12 L183.04,125.07 L183.98,125.02 L184.92,124.97 L185.86,124.92 L186.80,124.87 L187.75,124.82 L188.69,124.78 L189.63,124.73 L190.57,124.68 L191.51,124.63 L192.45,124.58 L193.39,124.53 L194.34,124.48 L195.28,124.43 L196.22,124.38 L197.16,124.33 L198.10,124.28 L199.04,124.23 L199.98,124.18 L200.93,124.13 L201.87,124.08 L202.81,124.03 L203.75,123.97 L204.69,123.92 L205.63,123.87 L206.57,123.81 L207.52,123.76 L208.46,123.70 L209.40,123.64 L210.34,123.59 L211.28,123.53 L212.22,123.47 L213.16,123.41 L214.11,123.35 L215.05,123.29 L215.99,123.23 L216.93,123.17 L217.87,123.11 L218.81,123.05 L219.75,122.98 L220.69,122.92 L221.64,122.85 L222.58,122.79 L223.52,122.72 L224.46,122.65 L225.40,122.58 L226.34,122.51 L227.28,122.44 L228.23,122.37 L229.17,122.30 L230.11,122.22 L231.05,122.15 L231.99,122.07 L232.93,122.00 L233.87,121.92 L234.82,121.84 L235.76,121.76 L236.70,121.68 L237.64,121.60 L238.58,121.52 L239.52,121.44 L240.46,121.35 L241.41,121.27 L242.35,121.18 L243.29,121.09 L244.23,121.00 L245.17,120.91 L246.11,120.82 L247.05,120.73 L248.00,120.64 L248.94,120.54 L249.88,120.45 L250.82,120.35 L251.76,120.25 L252.70,120.16 L253.64,120.06 L254.59,119.95 L255.53,119.85 L256.47,119.75 L257.41,119.64 L258.35,119.54 L259.29,119.43 L260.23,119.32 L261.17,119.21 L262.12,119.10 L263.06,118.99 L264.00,118.87 L264.94,118.76 L265.88,118.64 L266.82,118.52 L267.76,118.40 L268.71,118.28 L269.65,118.16 L270.59,118.04 L271.53,117.91 L272.47,117.79 L273.41,117.66 L274.35,117.53 L275.30,117.40 L276.24,117.27 L277.18,117.14 L278.12,117.01 L279.06,116.87 L280.00,116.73 L280.94,116.59 L281.89,116.46 L282.83,116.31 L283.77,116.17 L284.71,116.03 L285.65,115.88 L286.59,115.74 L287.53,115.59 L288.48,115.44 L289.42,115.29 L290.36,115.13 L291.30,114.98 L292.24,114.83 L293.18,114.67 L294.12,114.51 L295.07,114.35 L296.01,114.19 L296.95,114.03 L297.89,113.86 L298.83,113.70 L299.77,113.53 L300.71,113.36 L301.65,113.19 L302.60,113.02 L303.54,112.84 L304.48,112.67 L305.42,112.49 L306.36,112.31 L307.30,112.13 L308.24,111.95 L309.19,111.77 L310.13,111.59 L311.07,111.40 L312.01,111.21 L312.95,111.02 L313.89,110.83 L314.83,110.64 L315.78,110.45 L316.72,110.25 L317.66,110.05 L318.60,109.86 L319.54,109.66 L320.48,109.45 L321.42,109.25 L322.37,109.05 L323.31,108.84 L324.25,108.63 L325.19,108.42 L326.13,108.21 L327.07,108.00 L328.01,107.78 L328.96,107.57 L329.90,107.35 L330.84,107.13 L331.78,106.91 L332.72,106.69 L333.66,106.46 L334.60,106.24 L335.55,106.01 L336.49,105.78 L337.43,105.55 L338.37,105.32 L339.31,105.08 L340.25,104.85 L341.19,104.61 L342.14,104.37 L343.08,104.13 L344.02,103.89 L344.96,103.64 L345.90,103.40 L346.84,103.15 L347.78,102.90 L348.72,102.65 L349.67,102.40 L350.61,102.15 L351.55,101.89 L352.49,101.63 L353.43,101.37 L354.37,101.11 L355.31,100.85 L356.26,100.59 L357.20,100.32 L358.14,100.05 L359.08,99.78 L360.02,99.51 L360.96,99.24 L361.90,98.97 L362.85,98.69 L363.79,98.41 L364.73,98.14 L365.67,97.85 L366.61,97.57 L367.55,97.29 L368.49,97.00 L369.44,96.72 L370.38,96.43 L371.32,96.14 L372.26,95.84 L373.20,95.55 L374.14,95.25 L375.08,94.95 L376.03,94.66 L376.97,94.35 L377.91,94.05 L378.85,93.75 L379.79,93.44 L380.73,93.13 L381.67,92.82 L382.62,92.51 L383.56,92.20 L384.50,91.89 L385.44,91.57 L386.38,91.25 L387.32,90.93 L388.26,90.61 L389.20,90.29 L390.15,89.96 L391.09,89.64 L392.03,89.31 L392.97,88.98 L393.91,88.65 L394.85,88.31 L395.79,87.98 L396.74,87.64 L397.68,87.31 L398.62,86.97 L399.56,86.62 L400.50,86.28 L401.44,85.94 L402.38,85.59 L403.33,85.24 L404.27,84.89 L405.21,84.54 L406.15,84.19 L407.09,83.83 L408.03,83.47 L408.97,83.12 L409.92,82.76 L410.86,82.39 L411.80,82.03 L412.74,81.67 L413.68,81.30 L414.62,80.93 L415.56,80.56 L416.51,80.19 L417.45,79.82 L418.39,79.44 L419.33,79.06 L420.27,78.69 L421.21,78.31 L422.15,77.92 L423.10,77.54 L424.04,77.16 L424.98,76.77 L425.92,76.38 L426.86,75.99 L427.80,75.60 L428.74,75.21 L429.68,74.81 L430.63,74.42 L431.57,74.02 L432.51,73.62 L433.45,73.22 L434.39,72.81 L435.33,72.41 L436.27,72.00 L437.22,71.59 L438.16,71.18 L439.10,70.77 L440.04,70.36 L440.98,69.95 L441.92,69.53 L442.86,69.11 L443.81,68.69 L444.75,68.27 L445.69,67.85 L446.63,67.43 L447.57,67.00 L448.51,66.57 L449.45,66.14 L450.40,65.71 L451.34,65.28 L452.28,64.85 L453.22,64.41 L454.16,63.98" fill="none" stroke="#44300c" stroke-width="1.85"/>
<path d="M58.11,316.66 L58.21,314.17 L58.32,311.70 L58.43,309.23 L58.54,306.76 L58.66,304.30 L58.79,301.85 L58.91,299.40 L59.05,296.96 L59.18,294.53 L59.33,292.11 L59.48,289.69 L59.63,287.28 L59.79,284.87 L59.96,282.48 L60.13,280.09 L60.31,277.71 L60.50,275.34 L60.70,272.98 L60.90,270.63 L61.11,268.29 L61.33,265.95 L61.55,263.63 L61.79,261.32 L62.03,259.02 L62.29,256.72 L62.55,254.44 L62.83,252.18 L63.11,249.92 L63.41,247.67 L63.72,245.44 L64.04,243.22 L64.37,241.02 L64.71,238.82 L65.07,236.64 L65.45,234.48 L65.83,232.33 L66.23,230.19 L66.65,228.07 L67.09,225.96 L67.54,223.87 L68.01,221.80 L68.49,219.74 L69.00,217.70 L69.53,215.68 L70.07,213.68 L70.64,211.69 L71.23,209.72 L71.84,207.78 L72.48,205.85 L73.14,203.94 L73.82,202.05 L74.54,200.18 L75.28,198.34 L76.05,196.51 L76.85,194.71 L77.68,192.93 L78.54,191.18 L79.49,189.36 L80.43,187.64 L81.37,186.01 L82.31,184.45 L83.25,182.98 L84.19,181.57 L85.13,180.22 L86.08,178.94 L87.02,177.71 L87.96,176.54 L88.90,175.41 L89.84,174.33 L90.78,173.29 L91.72,172.30 L92.66,171.34 L93.61,170.42 L94.55,169.54 L95.49,168.68 L96.43,167.86 L97.37,167.07 L98.31,166.31 L99.25,165.57 L100.20,164.86 L101.14,164.17 L102.08,163.50 L103.02,162.86 L103.96,162.24 L104.90,161.64 L105.84,161.05 L106.79,160.49 L107.73,159.94 L108.67,159.41 L109.61,158.90 L110.55,158.40 L111.49,157.91 L112.43,157.45 L113.38,156.99 L114.32,156.55 L115.26,156.12 L116.20,155.70 L117.14,155.29 L118.08,154.90 L119.02,154.51 L119.97,154.14 L120.91,153.78 L121.85,153.42 L122.79,153.08 L123.73,152.74 L124.67,152.41 L125.61,152.10 L126.56,151.79 L127.50,151.48 L128.44,151.19 L129.38,150.90 L130.32,150.62 L131.26,150.35 L132.20,150.08 L133.14,149.82 L134.09,149.56 L135.03,149.31 L135.97,149.07 L136.91,148.83 L137.85,148.60 L138.79,148.37 L139.73,148.15 L140.68,147.94 L141.62,147.72 L142.56,147.51 L143.50,147.31 L144.44,147.11 L145.38,146.92 L146.32,146.73 L147.27,146.54 L148.21,146.36 L149.15,146.18 L150.09,146.00 L151.03,145.83 L151.97,145.66 L152.91,145.49 L153.86,145.33 L154.80,145.17 L155.74,145.01 L156.68,144.85 L157.62,144.70 L158.56,144.55 L159.50,144.40 L160.45,144.26 L161.39,144.12 L162.33,143.98 L163.27,143.84 L164.21,143.70 L165.15,143.57 L166.09,143.44 L167.04,143.31 L167.98,143.18 L168.92,143.05 L169.86,142.92 L170.80,142.80 L171.74,142.68 L172.68,142.56 L173.63,142.44 L174.57,142.32 L175.51,142.20 L176.45,142.09 L177.39,141.97 L178.33,141.86 L179.27,141.75 L180.21,141.64 L181.16,141.53 L182.10,141.42 L183.04,141.31 L183.98,141.20 L184.92,141.10 L185.86,140.99 L186.80,140.88 L187.75,140.78 L188.69,140.68 L189.63,140.57 L190.57,140.47 L191.51,140.37 L192.45,140.26 L193.39,140.16 L194.34,140.06 L195.28,139.96 L196.22,139.86 L197.16,139.76 L198.10,139.66 L199.04,139.56 L199.98,139.46 L200.93,139.36 L201.87,139.26 L202.81,139.16 L203.75,139.06 L204.69,138.96 L205.63,138.86 L206.57,138.76 L207.52,138.66 L208.46,138.56 L209.40,138.46 L210.34,138.36 L211.28,138.26 L212.22,138.16 L213.16,138.06 L214.11,137.96 L215.05,137.86 L215.99,137.76 L216.93,137.66 L217.87,137.56 L218.81,137.45 L219.75,137.35 L220.69,137.25 L221.64,137.14 L222.58,137.04 L223.52,136.93 L224.46,136.83 L225.40,136.72 L226.34,136.62 L227.28,136.51 L228.23,136.40 L229.17,136.30 L230.11,136.19 L231.05,136.08 L231.99,135.97 L232.93,135.86 L233.87,135.75 L234.82,135.63 L235.76,135.52 L236.70,135.41 L237.64,135.29 L238.58,135.18 L239.52,135.06 L240.46,134.95 L241.41,134.83 L242.35,134.71 L243.29,134.59 L244.23,134.48 L245.17,134.35 L246.11,134.23 L247.05,134.11 L248.00,133.99 L248.94,133.86 L249.88,133.74 L250.82,133.61 L251.76,133.49 L252.70,133.36 L253.64,133.23 L254.59,133.10 L255.53,132.97 L256.47,132.84 L257.41,132.70 L258.35,132.57 L259.29,132.44 L260.23,132.30 L261.17,132.16 L262.12,132.03 L263.06,131.89 L264.00,131.75 L264.94,131.60 L265.88,131.46 L266.82,131.32 L267.76,131.17 L268.71,131.03 L269.65,130.88 L270.59,130.73 L271.53,130.58 L272.47,130.43 L273.41,130.28 L274.35,130.13 L275.30,129.97 L276.24,129.82 L277.18,129.66 L278.12,129.51 L279.06,129.35 L280.00,129.19 L280.94,129.02 L281.89,128.86 L282.83,128.70 L283.77,128.53 L284.71,128.37 L285.65,128.20 L286.59,128.03 L287.53,127.86 L288.48,127.69 L289.42,127.51 L290.36,127.34 L291.30,127.16 L292.24,126.99 L293.18,126.81 L294.12,126.63 L295.07,126.45 L296.01,126.27 L296.95,126.08 L297.89,125.90 L298.83,125.71 L299.77,125.52 L300.71,125.33 L301.65,125.14 L302.60,124.95 L303.54,124.76 L304.48,124.56 L305.42,124.37 L306.36,124.17 L307.30,123.97 L308.24,123.77 L309.19,123.57 L310.13,123.37 L311.07,123.16 L312.01,122.96 L312.95,122.75 L313.89,122.54 L314.83,122.33 L315.78,122.12 L316.72,121.90 L317.66,121.69 L318.60,121.47 L319.54,121.26 L320.48,121.04 L321.42,120.82 L322.37,120.59 L323.31,120.37 L324.25,120.15 L325.19,119.92 L326.13,119.69 L327.07,119.46 L328.01,119.23 L328.96,119.00 L329.90,118.77 L330.84,118.53 L331.78,118.29 L332.72,118.05 L333.66,117.81 L334.60,117.57 L335.55,117.33 L336.49,117.09 L337.43,116.84 L338.37,116.59 L339.31,116.34 L340.25,116.09 L341.19,115.84 L342.14,115.59 L343.08,115.33 L344.02,115.08 L344.96,114.82 L345.90,114.56 L346.84,114.30 L347.78,114.04 L348.72,113.77 L349.67,113.51 L350.61,113.24 L351.55,112.97 L352.49,112.70 L353.43,112.43 L354.37,112.16 L355.31,111.88 L356.26,111.61 L357.20,111.33 L358.14,111.05 L359.08,110.77 L360.02,110.49 L360.96,110.20 L361.90,109.92 L362.85,109.63 L363.79,109.34 L364.73,109.05 L365.67,108.76 L366.61,108.47 L367.55,108.17 L368.49,107.87 L369.44,107.58 L370.38,107.28 L371.32,106.98 L372.26,106.67 L373.20,106.37 L374.14,106.06 L375.08,105.76 L376.03,105.45 L376.97,105.14 L377.91,104.83 L378.85,104.51 L379.79,104.20 L380.73,103.88 L381.67,103.57 L382.62,103.25 L383.56,102.93 L384.50,102.60 L385.44,102.28 L386.38,101.95 L387.32,101.63 L388.26,101.30 L389.20,100.97 L390.15,100.64 L391.09,100.30 L392.03,99.97 L392.97,99.63 L393.91,99.30 L394.85,98.96 L395.79,98.62 L396.74,98.27 L397.68,97.93 L398.62,97.58 L399.56,97.24 L400.50,96.89 L401.44,96.54 L402.38,96.19 L403.33,95.84 L404.27,95.48 L405.21,95.13 L406.15,94.77 L407.09,94.41 L408.03,94.05 L408.97,93.69 L409.92,93.32 L410.86,92.96 L411.80,92.59 L412.74,92.23 L413.68,91.86 L414.62,91.49 L415.56,91.11 L416.51,90.74 L417.45,90.36 L418.39,89.99 L419.33,89.61 L420.27,89.23 L421.21,88.85 L422.15,88.47 L423.10,88.08 L424.04,87.70 L424.98,87.31 L425.92,86.92 L426.86,86.53 L427.80,86.14 L428.74,85.75 L429.68,85.35 L430.63,84.96 L431.57,84.56 L432.51,84.16 L433.45,83.76 L434.39,83.36 L435.33,82.96 L436.27,82.55 L437.22,82.15 L438.16,81.74 L439.10,81.33 L440.04,80.92 L440.98,80.51 L441.92,80.10 L442.86,79.69 L443.81,79.27 L444.75,78.85 L445.69,78.43 L446.63,78.01 L447.57,77.59 L448.51,77.17 L449.45,76.75 L450.40,76.32 L451.34,75.90 L452.28,75.47 L453.22,75.04 L454.16,74.61" fill="none" stroke="#5c0a5a" stroke-width="1.85"/>
<path d="M61.55,315.61 L61.79,312.87 L62.03,310.14 L62.29,307.42 L62.55,304.71 L62.83,302.02 L63.11,299.33 L63.41,296.66 L63.72,294.00 L64.04,291.35 L64.37,288.71 L64.71,286.09 L65.07,283.49 L65.45,280.89 L65.83,278.32 L66.23,275.75 L66.65,273.21 L67.09,270.68 L67.54,268.16 L68.01,265.67 L68.49,263.19 L69.00,260.73 L69.53,258.28 L70.07,255.86 L70.64,253.46 L71.23,251.07 L71.84,248.71 L72.48,246.36 L73.14,244.04 L73.82,241.74 L74.54,239.46 L75.28,237.21 L76.05,234.98 L76.85,232.77 L77.68,230.58 L78.54,228.42 L79.49,226.19 L80.43,224.07 L81.37,222.05 L82.31,220.12 L83.25,218.29 L84.19,216.54 L85.13,214.86 L86.08,213.26 L87.02,211.73 L87.96,210.25 L88.90,208.84 L89.84,207.48 L90.78,206.17 L91.72,204.92 L92.66,203.71 L93.61,202.54 L94.55,201.41 L95.49,200.32 L96.43,199.27 L97.37,198.26 L98.31,197.28 L99.25,196.33 L100.20,195.41 L101.14,194.52 L102.08,193.65 L103.02,192.82 L103.96,192.00 L104.90,191.22 L105.84,190.45 L106.79,189.71 L107.73,188.98 L108.67,188.28 L109.61,187.60 L110.55,186.93 L111.49,186.29 L112.43,185.66 L113.38,185.04 L114.32,184.45 L115.26,183.86 L116.20,183.29 L117.14,182.74 L118.08,182.20 L119.02,181.67 L119.97,181.15 L120.91,180.65 L121.85,180.16 L122.79,179.68 L123.73,179.21 L124.67,178.75 L125.61,178.30 L126.56,177.86 L127.50,177.43 L128.44,177.01 L129.38,176.59 L130.32,176.19 L131.26,175.79 L132.20,175.41 L133.14,175.03 L134.09,174.65 L135.03,174.29 L135.97,173.93 L136.91,173.58 L137.85,173.23 L138.79,172.89 L139.73,172.56 L140.68,172.23 L141.62,171.91 L142.56,171.59 L143.50,171.28 L144.44,170.98 L145.38,170.68 L146.32,170.38 L147.27,170.09 L148.21,169.80 L149.15,169.52 L150.09,169.24 L151.03,168.97 L151.97,168.70 L152.91,168.44 L153.86,168.18 L154.80,167.92 L155.74,167.66 L156.68,167.41 L157.62,167.17 L158.56,166.92 L159.50,166.68 L160.45,166.44 L161.39,166.21 L162.33,165.98 L163.27,165.75 L164.21,165.52 L165.15,165.30 L166.09,165.08 L167.04,164.86 L167.98,164.64 L168.92,164.43 L169.86,164.22 L170.80,164.01 L171.74,163.80 L172.68,163.60 L173.63,163.39 L174.57,163.19 L175.51,162.99 L176.45,162.79 L177.39,162.60 L178.33,162.40 L179.27,162.21 L180.21,162.02 L181.16,161.83 L182.10,161.64 L183.04,161.46 L183.98,161.27 L184.92,161.09 L185.86,160.90 L186.80,160.72 L187.75,160.54 L188.69,160.36 L189.63,160.18 L190.57,160.01 L191.51,159.83 L192.45,159.66 L193.39,159.48 L194.34,159.31 L195.28,159.13 L196.22,158.96 L197.16,158.79 L198.10,158.62 L199.04,158.45 L199.98,158.28 L200.93,158.12 L201.87,157.95 L202.81,157.78 L203.75,157.61 L204.69,157.45 L205.63,157.28 L206.57,157.12 L207.52,156.95 L208.46,156.79 L209.40,156.62 L210.34,156.46 L211.28,156.30 L212.22,156.13 L213.16,155.97 L214.11,155.81 L215.05,155.64 L215.99,155.48 L216.93,155.32 L217.87,155.16 L218.81,155.00 L219.75,154.83 L220.69,154.67 L221.64,154.51 L222.58,154.35 L223.52,154.19 L224.46,154.03 L225.40,153.86 L226.34,153.70 L227.28,153.54 L228.23,153.38 L229.17,153.22 L230.11,153.05 L231.05,152.89 L231.99,152.73 L232.93,152.56 L233.87,152.40 L234.82,152.24 L235.76,152.07 L236.70,151.91 L237.64,151.75 L238.58,151.58 L239.52,151.42 L240.46,151.25 L241.41,151.09 L242.35,150.92 L243.29,150.75 L244.23,150.59 L245.17,150.42 L246.11,150.25 L247.05,150.08 L248.00,149.91 L248.94,149.75 L249.88,149.58 L250.82,149.41 L251.76,149.24 L252.70,149.06 L253.64,148.89 L254.59,148.72 L255.53,148.55 L256.47,148.37 L257.41,148.20 L258.35,148.03 L259.29,147.85 L260.23,147.68 L261.17,147.50 L262.12,147.32 L263.06,147.14 L264.00,146.97 L264.94,146.79 L265.88,146.61 L266.82,146.43 L267.76,146.25 L268.71,146.06 L269.65,145.88 L270.59,145.70 L271.53,145.51 L272.47,145.33 L273.41,145.14 L274.35,144.96 L275.30,144.77 L276.24,144.58 L277.18,144.39 L278.12,144.20 L279.06,144.01 L280.00,143.82 L280.94,143.63 L281.89,143.43 L282.83,143.24 L283.77,143.05 L284.71,142.85 L285.65,142.65 L286.59,142.46 L287.53,142.26 L288.48,142.06 L289.42,141.86 L290.36,141.66 L291.30,141.45 L292.24,141.25 L293.18,141.05 L294.12,140.84 L295.07,140.63 L296.01,140.43 L296.95,140.22 L297.89,140.01 L298.83,139.80 L299.77,139.59 L300.71,139.38 L301.65,139.16 L302.60,138.95 L303.54,138.73 L304.48,138.52 L305.42,138.30 L306.36,138.08 L307.30,137.86 L308.24,137.64 L309.19,137.42 L310.13,137.19 L311.07,136.97 L312.01,136.74 L312.95,136.52 L313.89,136.29 L314.83,136.06 L315.78,135.83 L316.72,135.60 L317.66,135.37 L318.60,135.14 L319.54,134.90 L320.48,134.67 L321.42,134.43 L322.37,134.19 L323.31,133.95 L324.25,133.71 L325.19,133.47 L326.13,133.23 L327.07,132.98 L328.01,132.74 L328.96,132.49 L329.90,132.24 L330.84,131.99 L331.78,131.74 L332.72,131.49 L333.66,131.24 L334.60,130.99 L335.55,130.73 L336.49,130.47 L337.43,130.22 L338.37,129.96 L339.31,129.70 L340.25,129.43 L341.19,129.17 L342.14,128.91 L343.08,128.64 L344.02,128.38 L344.96,128.11 L345.90,127.84 L346.84,127.57 L347.78,127.29 L348.72,127.02 L349.67,126.75 L350.61,126.47 L351.55,126.19 L352.49,125.91 L353.43,125.63 L354.37,125.35 L355.31,125.07 L356.26,124.78 L357.20,124.50 L358.14,124.21 L359.08,123.92 L360.02,123.63 L360.96,123.34 L361.90,123.05 L362.85,122.75 L363.79,122.46 L364.73,122.16 L365.67,121.86 L366.61,121.56 L367.55,121.26 L368.49,120.95 L369.44,120.65 L370.38,120.34 L371.32,120.04 L372.26,119.73 L373.20,119.42 L374.14,119.11 L375.08,118.79 L376.03,118.48 L376.97,118.16 L377.91,117.84 L378.85,117.53 L379.79,117.20 L380.73,116.88 L381.67,116.56 L382.62,116.23 L383.56,115.91 L384.50,115.58 L385.44,115.25 L386.38,114.92 L387.32,114.58 L388.26,114.25 L389.20,113.91 L390.15,113.58 L391.09,113.24 L392.03,112.90 L392.97,112.56 L393.91,112.21 L394.85,111.87 L395.79,111.52 L396.74,111.17 L397.68,110.82 L398.62,110.47 L399.56,110.12 L400.50,109.76 L401.44,109.41 L402.38,109.05 L403.33,108.69 L404.27,108.33 L405.21,107.97 L406.15,107.60 L407.09,107.23 L408.03,106.87 L408.97,106.50 L409.92,106.13 L410.86,105.76 L411.80,105.38 L412.74,105.01 L413.68,104.63 L414.62,104.25 L415.56,103.87 L416.51,103.49 L417.45,103.10 L418.39,102.72 L419.33,102.33 L420.27,101.94 L421.21,101.55 L422.15,101.16 L423.10,100.76 L424.04,100.37 L424.98,99.97 L425.92,99.57 L426.86,99.17 L427.80,98.77 L428.74,98.37 L429.68,97.96 L430.63,97.55 L431.57,97.14 L432.51,96.73 L433.45,96.32 L434.39,95.91 L435.33,95.49 L436.27,95.07 L437.22,94.65 L438.16,94.23 L439.10,93.81 L440.04,93.38 L440.98,92.96 L441.92,92.53 L442.86,92.10 L443.81,91.67 L444.75,91.24 L445.69,90.80 L446.63,90.36 L447.57,89.93 L448.51,89.48 L449.45,89.04 L450.40,88.60 L451.34,88.15 L452.28,87.71 L453.22,87.26 L454.16,86.81" fill="none" stroke="#991a2b" stroke-width="1.85"/>
<path d="M76.05,315.02 L76.85,312.20 L77.68,309.40 L78.54,306.63 L79.49,303.75 L80.43,301.01 L81.37,298.39 L82.31,295.89 L83.25,293.49 L84.19,291.19 L85.13,288.98 L86.08,286.86 L87.02,284.81 L87.96,282.84 L88.90,280.93 L89.84,279.09 L90.78,277.32 L91.72,275.59 L92.66,273.92 L93.61,272.31 L94.55,270.74 L95.49,269.21 L96.43,267.73 L97.37,266.29 L98.31,264.88 L99.25,263.52 L100.20,262.18 L101.14,260.88 L102.08,259.62 L103.02,258.38 L103.96,257.17 L104.90,255.99 L105.84,254.84 L106.79,253.71 L107.73,252.61 L108.67,251.53 L109.61,250.47 L110.55,249.43 L111.49,248.42 L112.43,247.42 L113.38,246.45 L114.32,245.49 L115.26,244.55 L116.20,243.63 L117.14,242.73 L118.08,241.84 L119.02,240.97 L119.97,240.12 L120.91,239.27 L121.85,238.45 L122.79,237.64 L123.73,236.84 L124.67,236.05 L125.61,235.28 L126.56,234.52 L127.50,233.77 L128.44,233.04 L129.38,232.31 L130.32,231.60 L131.26,230.90 L132.20,230.21 L133.14,229.53 L134.09,228.86 L135.03,228.20 L135.97,227.55 L136.91,226.91 L137.85,226.28 L138.79,225.65 L139.73,225.04 L140.68,224.44 L141.62,223.84 L142.56,223.25 L143.50,222.67 L144.44,222.10 L145.38,221.54 L146.32,220.98 L147.27,220.43 L148.21,219.89 L149.15,219.36 L150.09,218.83 L151.03,218.31 L151.97,217.80 L152.91,217.29 L153.86,216.79 L154.80,216.30 L155.74,215.81 L156.68,215.33 L157.62,214.85 L158.56,214.38 L159.50,213.92 L160.45,213.46 L161.39,213.01 L162.33,212.56 L163.27,212.12 L164.21,211.68 L165.15,211.25 L166.09,210.82 L167.04,210.40 L167.98,209.98 L168.92,209.57 L169.86,209.17 L170.80,208.76 L171.74,208.36 L172.68,207.97 L173.63,207.58 L174.57,207.20 L175.51,206.82 L176.45,206.44 L177.39,206.07 L178.33,205.70 L179.27,205.33 L180.21,204.97 L181.16,204.61 L182.10,204.26 L183.04,203.91 L183.98,203.56 L184.92,203.22 L185.86,202.88 L186.80,202.54 L187.75,202.21 L188.69,201.88 L189.63,201.55 L190.57,201.23 L191.51,200.91 L192.45,200.59 L193.39,200.27 L194.34,199.96 L195.28,199.65 L196.22,199.34 L197.16,199.04 L198.10,198.73 L199.04,198.43 L199.98,198.14 L200.93,197.84 L201.87,197.55 L202.81,197.26 L203.75,196.97 L204.69,196.69 L205.63,196.40 L206.57,196.12 L207.52,195.84 L208.46,195.56 L209.40,195.29 L210.34,195.01 L211.28,194.74 L212.22,194.47 L213.16,194.20 L214.11,193.93 L215.05,193.67 L215.99,193.40 L216.93,193.14 L217.87,192.88 L218.81,192.62 L219.75,192.36 L220.69,192.10 L221.64,191.85 L222.58,191.59 L223.52,191.34 L224.46,191.09 L225.40,190.84 L226.34,190.59 L227.28,190.34 L228.23,190.09 L229.17,189.85 L230.11,189.60 L231.05,189.35 L231.99,189.11 L232.93,188.87 L233.87,188.62 L234.82,188.38 L235.76,188.14 L236.70,187.90 L237.64,187.66 L238.58,187.42 L239.52,187.18 L240.46,186.94 L241.41,186.70 L242.35,186.47 L243.29,186.23 L244.23,185.99 L245.17,185.76 L246.11,185.52 L247.05,185.28 L248.00,185.05 L248.94,184.81 L249.88,184.58 L250.82,184.34 L251.76,184.11 L252.70,183.87 L253.64,183.64 L254.59,183.40 L255.53,183.17 L256.47,182.93 L257.41,182.70 L258.35,182.46 L259.29,182.23 L260.23,181.99 L261.17,181.76 L262.12,181.52 L263.06,181.28 L264.00,181.05 L264.94,180.81 L265.88,180.57 L266.82,180.34 L267.76,180.10 L268.71,179.86 L269.65,179.62 L270.59,179.38 L271.53,179.14 L272.47,178.90 L273.41,178.66 L274.35,178.42 L275.30,178.18 L276.24,177.94 L277.18,177.70 L278.12,177.45 L279.06,177.21 L280.00,176.96 L280.94,176.72 L281.89,176.47 L282.83,176.22 L283.77,175.98 L284.71,175.73 L285.65,175.48 L286.59,175.23 L287.53,174.98 L288.48,174.73 L289.42,174.47 L290.36,174.22 L291.30,173.97 L292.24,173.71 L293.18,173.46 L294.12,173.20 L295.07,172.94 L296.01,172.68 L296.95,172.42 L297.89,172.16 L298.83,171.90 L299.77,171.64 L300.71,171.37 L301.65,171.11 L302.60,170.84 L303.54,170.57 L304.48,170.30 L305.42,170.04 L306.36,169.76 L307.30,169.49 L308.24,169.22 L309.19,168.95 L310.13,168.67 L311.07,168.39 L312.01,168.12 L312.95,167.84 L313.89,167.56 L314.83,167.28 L315.78,166.99 L316.72,166.71 L317.66,166.43 L318.60,166.14 L319.54,165.85 L320.48,165.56 L321.42,165.27 L322.37,164.98 L323.31,164.69 L324.25,164.40 L325.19,164.10 L326.13,163.80 L327.07,163.51 L328.01,163.21 L328.96,162.91 L329.90,162.60 L330.84,162.30 L331.78,162.00 L332.72,161.69 L333.66,161.38 L334.60,161.08 L335.55,160.77 L336.49,160.45 L337.43,160.14 L338.37,159.83 L339.31,159.51 L340.25,159.20 L341.19,158.88 L342.14,158.56 L343.08,158.24 L344.02,157.92 L344.96,157.59 L345.90,157.27 L346.84,156.94 L347.78,156.61 L348.72,156.28 L349.67,155.95 L350.61,155.62 L351.55,155.29 L352.49,154.95 L353.43,154.62 L354.37,154.28 L355.31,153.94 L356.26,153.60 L357.20,153.26 L358.14,152.92 L359.08,152.58 L360.02,152.23 L360.96,151.88 L361.90,151.54 L362.85,151.19 L363.79,150.84 L364.73,150.49 L365.67,150.13 L366.61,149.78 L367.55,149.42 L368.49,149.07 L369.44,148.71 L370.38,148.35 L371.32,147.99 L372.26,147.62 L373.20,147.26 L374.14,146.90 L375.08,146.53 L376.03,146.16 L376.97,145.80 L377.91,145.43 L378.85,145.06 L379.79,144.68 L380.73,144.31 L381.67,143.94 L382.62,143.56 L383.56,143.18 L384.50,142.81 L385.44,142.43 L386.38,142.05 L387.32,141.67 L388.26,141.29 L389.20,140.90 L390.15,140.52 L391.09,140.13 L392.03,139.75 L392.97,139.36 L393.91,138.97 L394.85,138.58 L395.79,138.19 L396.74,137.80 L397.68,137.41 L398.62,137.02 L399.56,136.62 L400.50,136.23 L401.44,135.83 L402.38,135.43 L403.33,135.04 L404.27,134.64 L405.21,134.24 L406.15,133.84 L407.09,133.44 L408.03,133.03 L408.97,132.63 L409.92,132.23 L410.86,131.82 L411.80,131.42 L412.74,131.01 L413.68,130.61 L414.62,130.20 L415.56,129.79 L416.51,129.39 L417.45,128.98 L418.39,128.57 L419.33,128.16 L420.27,127.75 L421.21,127.34 L422.15,126.93 L423.10,126.51 L424.04,126.10 L424.98,125.69 L425.92,125.28 L426.86,124.86 L427.80,124.45 L428.74,124.03 L429.68,123.62 L430.63,123.21 L431.57,122.79 L432.51,122.37 L433.45,121.96 L434.39,121.54 L435.33,121.13 L436.27,120.71 L437.22,120.29 L438.16,119.88 L439.10,119.46 L440.04,119.04 L440.98,118.63 L441.92,118.21 L442.86,117.79 L443.81,117.38 L444.75,116.96 L445.69,116.54 L446.63,116.13 L447.57,115.71 L448.51,115.30 L449.45,114.88 L450.40,114.46 L451.34,114.05 L452.28,113.63 L453.22,113.22 L454.16,112.80" fill="none" stroke="#ab2121" stroke-width="1.85"/>
</g>
<line x1="55.5" y1="6.5" x2="55.5" y2="277.0" stroke="#000" stroke-width="1" opacity="0.75"/>
<path d="M251.3,64.2 L256.6,72.6 L246.0,72.6 Z" fill="#0000ff"/>
<line x1="272.8" y1="219.4" x2="299.2" y2="219.4" stroke="#000" stroke-width="1.85"/><line x1="272.8" y1="239.2" x2="299.2" y2="239.2" stroke="#02308a" stroke-width="1.85"/><line x1="272.8" y1="258.9" x2="299.2" y2="258.9" stroke="#44300c" stroke-width="1.85"/><line x1="417.8" y1="219.4" x2="443.8" y2="219.4" stroke="#5c0a5a" stroke-width="1.85"/><line x1="417.8" y1="239.2" x2="443.8" y2="239.2" stroke="#991a2b" stroke-width="1.85"/><line x1="417.8" y1="258.9" x2="443.8" y2="258.9" stroke="#ab2121" stroke-width="1.85"/>
<g style="filter:grayscale(1)" stroke="#000" stroke-width="0.22">
<text transform="translate(57.90,295.60) scale(1.018,1)" text-anchor="middle">0</text><text transform="translate(115.31,295.60) scale(1.018,1)" text-anchor="middle">0.05</text><text transform="translate(172.92,295.60) scale(1.018,1)" text-anchor="middle">0.1</text><text transform="translate(230.53,295.60) scale(1.018,1)" text-anchor="middle">0.15</text><text transform="translate(288.14,295.60) scale(1.018,1)" text-anchor="middle">0.2</text><text transform="translate(345.75,295.60) scale(1.018,1)" text-anchor="middle">0.25</text><text transform="translate(403.36,295.60) scale(1.018,1)" text-anchor="middle">0.3</text>
<text transform="translate(49.80,12.10) scale(1.018,1)" text-anchor="end">0</text><text transform="translate(49.80,51.98) scale(1.018,1)" text-anchor="end">-10</text><text transform="translate(49.80,91.86) scale(1.018,1)" text-anchor="end">-20</text><text transform="translate(49.80,131.74) scale(1.018,1)" text-anchor="end">-30</text><text transform="translate(49.80,171.62) scale(1.018,1)" text-anchor="end">-40</text><text transform="translate(49.80,211.50) scale(1.018,1)" text-anchor="end">-50</text><text transform="translate(49.80,251.38) scale(1.018,1)" text-anchor="end">-60</text>
<text transform="translate(267.20,224.80) scale(1.018,1)" text-anchor="end">T=0 MeV</text><text transform="translate(267.20,244.60) scale(1.018,1)" text-anchor="end">T=10 MeV</text><text transform="translate(267.20,264.30) scale(1.018,1)" text-anchor="end">T=15 MeV</text><text transform="translate(412.20,224.80) scale(1.018,1)" text-anchor="end"><tspan dy="-1.8">T</tspan><tspan dy="5.7" font-size="13.6">c</tspan><tspan dy="-4.1">=17.4 MeV</tspan></text><text transform="translate(412.20,244.60) scale(1.018,1)" text-anchor="end">T=20 MeV</text><text transform="translate(412.20,264.30) scale(1.018,1)" text-anchor="end">T=25 MeV</text>
<text x="228.0" y="318.3" font-family="Liberation Serif" font-size="16.5">ρ</text>
<text transform="translate(242.00,318.30) scale(1.018,1)" text-anchor="start">[fm<tspan dy="-8" font-size="12.8">-3</tspan><tspan dy="8" dx="-0.2">]</tspan></text>
<text transform="translate(15.6,141.1) rotate(-90) scale(1.018,1)" text-anchor="middle">F [MeV]</text>
</g>
</svg>
</body></html>
